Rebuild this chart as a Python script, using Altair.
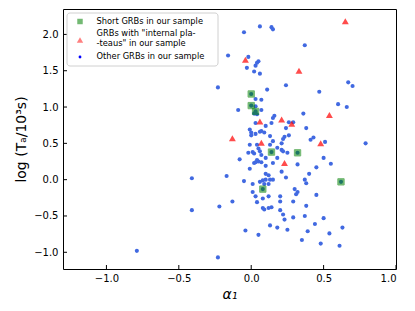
import altair as alt
import pandas as pd

# ---- data ----
other_alpha = [0.06, 0.14, 0.15, -0.05, 0.37, -0.16, -0.02, 0.05, 0.04, 0.03, -0.03, 0.02, 0.06,
               0.67, 0.70, 0.24, 0.11, -0.23, 0.47, 0.03, 0.07, 0.60, 0.66, 0.03, -0.09, 0.07,
               0.36, 0.02, 0.04, 0.16, 0.15, 0.14, 0.03, 0.26, 0.29, 0.10, 0.24, 0.38, -0.01,
               0.00, 0.03, 0.06, 0.07, 0.09, 0.00, 0.13, 0.26, 0.23, 0.22, 0.43, 0.41, 0.51,
               0.79, 0.21, 0.15, -0.01, 0.04, 0.13, 0.18, 0.05, 0.21, 0.22, 0.25, -0.02, 0.01,
               0.02, 0.06, 0.07, 0.10, 0.18, 0.50, -0.08, 0.02, 0.03, 0.05, 0.07, 0.04, 0.10,
               0.15, 0.32, 0.55, 0.45, -0.01, 0.21, 0.10, 0.12, 0.40, -0.17, -0.41, 0.24, 0.37,
               0.38, -0.05, 0.01, 0.06, 0.08, 0.10, 0.13, 0.15, 0.09, 0.12, 0.30, 0.32, 0.31,
               0.01, 0.03, 0.12, 0.08, 0.20, 0.45, 0.04, -0.13, 0.20, 0.29, 0.38, -0.22, -0.41,
               0.08, 0.09, 0.12, 0.14, 0.20, 0.22, 0.37, 0.29, 0.50, 0.23, 0.44, 0.13, 0.18,
               0.63, 0.25, 0.39, -0.04, 0.54, 0.05, 0.35, 0.48, 0.61, -0.79, -0.23]
other_logT = [2.11, 2.10, 2.07, 2.03, 1.85, 1.71, 1.69, 1.63, 1.61, 1.57, 1.54, 1.49, 1.46,
              1.34, 1.29, 1.30, 1.24, 1.27, 1.21, 1.11, 1.10, 1.04, 1.00, 1.01, 0.96, 0.96,
              0.91, 0.91, 0.90, 0.88, 0.85, 0.78, 0.78, 0.79, 0.79, 0.74, 0.71, 0.71, 0.69,
              0.65, 0.63, 0.66, 0.67, 0.65, 0.61, 0.60, 0.61, 0.59, 0.56, 0.58, 0.55, 0.52,
              0.50, 0.50, 0.53, 0.48, 0.48, 0.48, 0.44, 0.43, 0.41, 0.39, 0.37, 0.37, 0.38,
              0.36, 0.39, 0.34, 0.30, 0.30, 0.30, 0.28, 0.23, 0.24, 0.25, 0.24, 0.27, 0.19,
              0.23, 0.21, 0.22, 0.17, 0.15, 0.11, 0.08, 0.06, 0.08, 0.05, 0.02, 0.03, 0.00,
              -0.05, -0.02, -0.06, -0.03, -0.01, 0.00, 0.00, 0.00, -0.06, -0.06, -0.13, -0.17, -0.20,
              -0.17, -0.23, -0.23, -0.26, -0.23, -0.21, -0.31, -0.30, -0.30, -0.30, -0.36, -0.37, -0.42,
              -0.39, -0.41, -0.39, -0.38, -0.42, -0.48, -0.50, -0.52, -0.53, -0.55, -0.61, -0.63, -0.66,
              -0.66, -0.69, -0.71, -0.70, -0.74, -0.76, -0.83, -0.88, -0.91, -0.98, -1.07]

plateau_alpha = [0.65, -0.04, 0.33, 0.06, 0.21, 0.28, 0.54, -0.13, 0.07, 0.48, 0.23]
plateau_logT = [2.18, 1.65, 1.50, 0.80, 0.83, 0.77, 0.89, 0.57, 0.51, 0.50, 0.23]

short_alpha = [0.00, 0.00, 0.03, 0.14, 0.32, 0.62, 0.08]
short_logT = [1.18, 1.02, 0.94, 0.38, 0.37, -0.03, -0.13]

x_ticks = [-1.0, -0.5, 0.0, 0.5, 1.0]
y_ticks = [-1.0, -0.5, 0.0, 0.5, 1.0, 1.5, 2.0]

legend_labels = ["Short GRBs in our sample",
                 'GRBs with "internal pla-\n-teaus" in our sample',
                 "Other GRBs in our sample"]

W, H = 333, 260
FONT = "DejaVu Sans"

xs = alt.Scale(domain=[-1.3, 1.0], nice=False, zero=False)
ys = alt.Scale(domain=[-1.23, 2.35], nice=False, zero=False)

dots_df = pd.DataFrame({"a": other_alpha + short_alpha, "t": other_logT + short_logT})
short_df = pd.DataFrame({"a": short_alpha, "t": short_logT})
plat_df = pd.DataFrame({"a": plateau_alpha, "t": plateau_logT})

x_axis = alt.Axis(values=x_ticks, format=".1f", ticks=False, domain=False, grid=False,
                  labelFontSize=10, labelPadding=4, labelColor="black", labelFont=FONT,
                  title="α₁", titleFontSize=14, titleFontStyle="italic", titleFontWeight="normal",
                  titleFont=FONT, titleColor="black", titlePadding=4)
y_axis = alt.Axis(values=y_ticks, format=".1f", ticks=False, domain=False, grid=False,
                  labelFontSize=10, labelPadding=5, labelColor="black", labelFont=FONT,
                  title="log (Tₐ/10³s)", titleFontSize=14, titleFontWeight="normal",
                  titleFont=FONT, titleColor="black", titlePadding=5)

X = alt.X("a:Q", scale=xs, axis=x_axis)
Y = alt.Y("t:Q", scale=ys, axis=y_axis)

dots = alt.Chart(dots_df).mark_circle(size=17, color="royalblue", opacity=1).encode(x=X, y=Y)
squares = alt.Chart(short_df).mark_point(shape="square", size=40, filled=True, color="green",
                                          opacity=0.55, stroke="green", strokeWidth=1).encode(x=X, y=Y)
tris = alt.Chart(plat_df).mark_point(shape="triangle-up", size=48, filled=True, color="red",
                                      opacity=0.7).encode(x=X, y=Y)

xt = alt.Chart(pd.DataFrame({"a": x_ticks})).mark_rule(color="black", strokeWidth=1).encode(
    x=X, y=alt.value(H), y2=alt.value(H - 4))
yt = alt.Chart(pd.DataFrame({"t": y_ticks})).mark_rule(color="black", strokeWidth=1).encode(
    y=Y, x=alt.value(0), x2=alt.value(4))

one = pd.DataFrame({"k": [0]})
box = alt.Chart(one).mark_rect(fill="white", stroke="#cccccc", strokeWidth=1, cornerRadius=3,
                               opacity=0.9).encode(
    x=alt.value(4), x2=alt.value(155), y=alt.value(4), y2=alt.value(57))
lg_sq = alt.Chart(one).mark_point(shape="square", size=30, filled=True, color="green",
                                  opacity=0.55).encode(x=alt.value(17), y=alt.value(12.5))
lg_tri = alt.Chart(one).mark_point(shape="triangle-up", size=40, filled=True, color="red",
                                   opacity=0.5).encode(x=alt.value(17), y=alt.value(31))
lg_dot = alt.Chart(one).mark_circle(size=8, color="blue", opacity=1).encode(
    x=alt.value(17), y=alt.value(48))


def lg_text(label, y):
    return alt.Chart(one).mark_text(align="left", baseline="middle", fontSize=8.3, font=FONT,
                                    color="black", lineBreak="\n", lineHeight=10.5).encode(
        x=alt.value(33.5), y=alt.value(y), text=alt.value(label))


chart = alt.layer(
    dots, squares, tris, xt, yt, box, lg_sq, lg_tri, lg_dot,
    lg_text(legend_labels[0], 12.5), lg_text(legend_labels[1], 24.5), lg_text(legend_labels[2], 48),
).properties(
    width=W, height=H,
    autosize=alt.AutoSizeParams(type="none"),
    padding={"left": 55, "top": 1, "right": 10, "bottom": 34},
    background="white",
).configure(font=FONT).configure_view(stroke="black", strokeWidth=1)

chart.save("out.html", embed_options={"renderer": "svg", "actions": False})
